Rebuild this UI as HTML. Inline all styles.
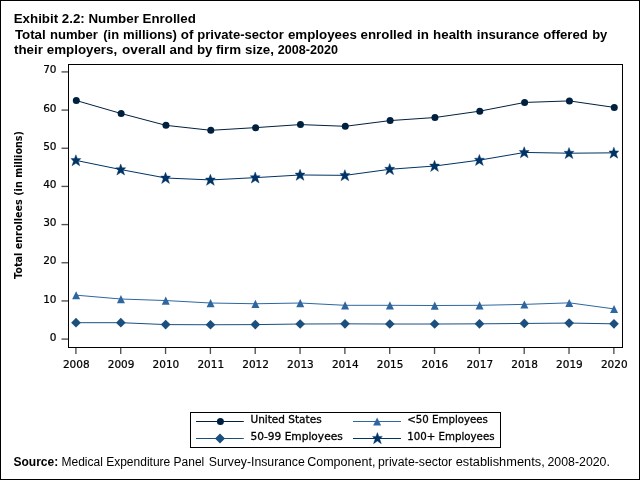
<!DOCTYPE html>
<html lang="en"><head><meta charset="utf-8"><title>Exhibit 2.2: Number Enrolled</title>
<style>
html,body{margin:0;padding:0;background:#fff;}
body{width:640px;height:480px;overflow:hidden;}
svg{display:block;will-change:transform;}
.t{font-family:"Liberation Sans",Arial,sans-serif;font-weight:bold;font-size:13.33px;fill:#000;}
.s{font-family:"Liberation Sans",Arial,sans-serif;font-size:12px;fill:#000;}
.k{font-family:"DejaVu Sans","Liberation Sans",sans-serif;font-size:10.5px;fill:#000;stroke:#000;stroke-width:0.22px;}
.g{stroke-width:0.3px;}
.yl{font-family:"DejaVu Sans","Liberation Sans",sans-serif;font-weight:bold;font-size:10.5px;fill:#000;}
</style></head><body>
<svg width="640" height="480" viewBox="0 0 640 480">
<rect x="0" y="0" width="640" height="480" fill="#fff"/>
<rect x="0.5" y="0.5" width="639" height="479" fill="none" stroke="#000" stroke-width="1" shape-rendering="crispEdges"/>
<text class="t" x="13.7" y="23">Exhibit 2.2: Number Enrolled</text>
<text class="t" y="38.5"><tspan x="14.9">Total</tspan> <tspan x="50" textLength="47.9" lengthAdjust="spacingAndGlyphs">number</tspan> <tspan x="103.3" textLength="15.8" lengthAdjust="spacingAndGlyphs">(in</tspan> <tspan x="123" textLength="53.9" lengthAdjust="spacingAndGlyphs">millions)</tspan> <tspan x="180.8">of</tspan> <tspan x="197.3" textLength="86.45" lengthAdjust="spacingAndGlyphs">private-sector</tspan> <tspan x="287.9">employees</tspan> <tspan x="360.5">enrolled</tspan> <tspan x="417.1">in</tspan> <tspan x="433.1">health</tspan> <tspan x="476.8" textLength="62.3" lengthAdjust="spacingAndGlyphs">insurance</tspan> <tspan x="543.2" textLength="44.7" lengthAdjust="spacingAndGlyphs">offered</tspan> <tspan x="592.2" textLength="15.1" lengthAdjust="spacingAndGlyphs">by</tspan></text>
<text class="t" y="54"><tspan x="14">their</tspan> <tspan x="46.8">employers,</tspan> <tspan x="122" textLength="43.9" lengthAdjust="spacingAndGlyphs">overall</tspan> <tspan x="169.5">and</tspan> <tspan x="196.9">by</tspan> <tspan x="215.9">firm</tspan> <tspan x="245.1">size,</tspan> <tspan x="277.7" textLength="60.2" lengthAdjust="spacingAndGlyphs">2008-2020</tspan></text>
<rect x="68.5" y="64.5" width="554" height="283" fill="none" stroke="#000" stroke-width="1" shape-rendering="crispEdges"/>
<line x1="61.5" y1="339.1" x2="68" y2="339.1" stroke="#505050" stroke-width="1.35"/>
<text class="k" x="56.5" y="340.8" text-anchor="end">0</text>
<line x1="61.5" y1="300.93" x2="68" y2="300.93" stroke="#505050" stroke-width="1.35"/>
<text class="k" x="56.5" y="302.7" text-anchor="end">10</text>
<line x1="61.5" y1="262.76" x2="68" y2="262.76" stroke="#505050" stroke-width="1.35"/>
<text class="k" x="56.5" y="264" text-anchor="end">20</text>
<line x1="61.5" y1="224.59" x2="68" y2="224.59" stroke="#505050" stroke-width="1.35"/>
<text class="k" x="56.5" y="226" text-anchor="end">30</text>
<line x1="61.5" y1="186.42" x2="68" y2="186.42" stroke="#505050" stroke-width="1.35"/>
<text class="k" x="56.5" y="188" text-anchor="end">40</text>
<line x1="61.5" y1="148.25" x2="68" y2="148.25" stroke="#505050" stroke-width="1.35"/>
<text class="k" x="56.5" y="150" text-anchor="end">50</text>
<line x1="61.5" y1="110.08" x2="68" y2="110.08" stroke="#505050" stroke-width="1.35"/>
<text class="k" x="56.5" y="112" text-anchor="end">60</text>
<line x1="61.5" y1="71.91" x2="68" y2="71.91" stroke="#505050" stroke-width="1.35"/>
<text class="k" x="56.5" y="73" text-anchor="end">70</text>
<line x1="75.9" y1="348" x2="75.9" y2="354" stroke="#505050" stroke-width="1.35"/>
<text class="k" x="76.3" y="368" text-anchor="middle">2008</text>
<line x1="120.73" y1="348" x2="120.73" y2="354" stroke="#505050" stroke-width="1.35"/>
<text class="k" x="121.13" y="368" text-anchor="middle">2009</text>
<line x1="165.56" y1="348" x2="165.56" y2="354" stroke="#505050" stroke-width="1.35"/>
<text class="k" x="165.96" y="368" text-anchor="middle">2010</text>
<line x1="210.39" y1="348" x2="210.39" y2="354" stroke="#505050" stroke-width="1.35"/>
<text class="k" x="210.79" y="368" text-anchor="middle">2011</text>
<line x1="255.22" y1="348" x2="255.22" y2="354" stroke="#505050" stroke-width="1.35"/>
<text class="k" x="255.62" y="368" text-anchor="middle">2012</text>
<line x1="300.05" y1="348" x2="300.05" y2="354" stroke="#505050" stroke-width="1.35"/>
<text class="k" x="300.45" y="368" text-anchor="middle">2013</text>
<line x1="344.88" y1="348" x2="344.88" y2="354" stroke="#505050" stroke-width="1.35"/>
<text class="k" x="345.28" y="368" text-anchor="middle">2014</text>
<line x1="389.71" y1="348" x2="389.71" y2="354" stroke="#505050" stroke-width="1.35"/>
<text class="k" x="390.11" y="368" text-anchor="middle">2015</text>
<line x1="434.54" y1="348" x2="434.54" y2="354" stroke="#505050" stroke-width="1.35"/>
<text class="k" x="434.94" y="368" text-anchor="middle">2016</text>
<line x1="479.37" y1="348" x2="479.37" y2="354" stroke="#505050" stroke-width="1.35"/>
<text class="k" x="479.77" y="368" text-anchor="middle">2017</text>
<line x1="524.2" y1="348" x2="524.2" y2="354" stroke="#505050" stroke-width="1.35"/>
<text class="k" x="524.6" y="368" text-anchor="middle">2018</text>
<line x1="569.03" y1="348" x2="569.03" y2="354" stroke="#505050" stroke-width="1.35"/>
<text class="k" x="569.43" y="368" text-anchor="middle">2019</text>
<line x1="613.86" y1="348" x2="613.86" y2="354" stroke="#505050" stroke-width="1.35"/>
<text class="k" x="614.26" y="368" text-anchor="middle">2020</text>
<text class="yl" transform="translate(22,205) rotate(-90)" text-anchor="middle" textLength="148" lengthAdjust="spacingAndGlyphs">Total enrollees (in millions)</text>
<polyline points="76.3,100.54 121.13,113.52 165.96,125.35 210.79,130.31 255.62,127.64 300.45,124.58 345.28,126.3 390.11,120.58 434.94,117.52 479.77,111.15 524.6,102.45 569.43,100.92 614.26,107.41" fill="none" stroke="#00203f" stroke-width="1.0"/>
<polyline points="76.3,160.46 121.13,169.63 165.96,178.02 210.79,179.93 255.62,177.64 300.45,174.97 345.28,175.35 390.11,169.24 434.94,166 479.77,160.08 524.6,152.45 569.43,153.21 614.26,152.83" fill="none" stroke="#003366" stroke-width="1.0"/>
<polyline points="76.3,295.2 121.13,299.02 165.96,300.55 210.79,303.03 255.62,303.75 300.45,303.03 345.28,305.32 390.11,305.32 434.94,305.51 479.77,305.32 524.6,304.37 569.43,302.84 614.26,308.95" fill="none" stroke="#2e679f" stroke-width="1.0"/>
<polyline points="76.3,322.69 121.13,322.69 165.96,324.6 210.79,324.75 255.62,324.6 300.45,324.02 345.28,323.83 390.11,324.02 434.94,324.02 479.77,323.83 524.6,323.45 569.43,323.07 614.26,323.83" fill="none" stroke="#1b4f7d" stroke-width="1.0"/>
<circle cx="76.3" cy="100.54" r="3.5" fill="#00203f"/>
<polygon points="75.9,154.76 77.35,158.56 80.8,158.56 78.3,161.36 79.8,165.86 75.9,163.26 72,165.86 73.5,161.36 71,158.56 74.45,158.56" fill="#003366" stroke="#003366" stroke-width="0.4" stroke-linejoin="miter"/>
<polygon points="76.1,291.25 80.1,299.35 72.1,299.35" fill="#2e679f"/>
<polygon points="76,317.84 80.85,322.69 76,327.54 71.15,322.69" fill="#1b4f7d"/>
<circle cx="121.13" cy="113.52" r="3.5" fill="#00203f"/>
<polygon points="120.73,163.93 122.18,167.73 125.63,167.73 123.13,170.53 124.63,175.03 120.73,172.43 116.83,175.03 118.33,170.53 115.83,167.73 119.28,167.73" fill="#003366" stroke="#003366" stroke-width="0.4" stroke-linejoin="miter"/>
<polygon points="120.93,295.07 124.93,303.17 116.93,303.17" fill="#2e679f"/>
<polygon points="120.83,317.84 125.68,322.69 120.83,327.54 115.98,322.69" fill="#1b4f7d"/>
<circle cx="165.96" cy="125.35" r="3.5" fill="#00203f"/>
<polygon points="165.56,172.32 167.01,176.12 170.46,176.12 167.96,178.92 169.46,183.42 165.56,180.82 161.66,183.42 163.16,178.92 160.66,176.12 164.11,176.12" fill="#003366" stroke="#003366" stroke-width="0.4" stroke-linejoin="miter"/>
<polygon points="165.76,296.6 169.76,304.7 161.76,304.7" fill="#2e679f"/>
<polygon points="165.66,319.75 170.51,324.6 165.66,329.45 160.81,324.6" fill="#1b4f7d"/>
<circle cx="210.79" cy="130.31" r="3.5" fill="#00203f"/>
<polygon points="210.39,174.23 211.84,178.03 215.29,178.03 212.79,180.83 214.29,185.33 210.39,182.73 206.49,185.33 207.99,180.83 205.49,178.03 208.94,178.03" fill="#003366" stroke="#003366" stroke-width="0.4" stroke-linejoin="miter"/>
<polygon points="210.59,299.08 214.59,307.18 206.59,307.18" fill="#2e679f"/>
<polygon points="210.49,319.9 215.34,324.75 210.49,329.6 205.64,324.75" fill="#1b4f7d"/>
<circle cx="255.62" cy="127.64" r="3.5" fill="#00203f"/>
<polygon points="255.22,171.94 256.67,175.74 260.12,175.74 257.62,178.54 259.12,183.04 255.22,180.44 251.32,183.04 252.82,178.54 250.32,175.74 253.77,175.74" fill="#003366" stroke="#003366" stroke-width="0.4" stroke-linejoin="miter"/>
<polygon points="255.42,299.8 259.42,307.9 251.42,307.9" fill="#2e679f"/>
<polygon points="255.32,319.75 260.17,324.6 255.32,329.45 250.47,324.6" fill="#1b4f7d"/>
<circle cx="300.45" cy="124.58" r="3.5" fill="#00203f"/>
<polygon points="300.05,169.27 301.5,173.07 304.95,173.07 302.45,175.87 303.95,180.37 300.05,177.77 296.15,180.37 297.65,175.87 295.15,173.07 298.6,173.07" fill="#003366" stroke="#003366" stroke-width="0.4" stroke-linejoin="miter"/>
<polygon points="300.25,299.08 304.25,307.18 296.25,307.18" fill="#2e679f"/>
<polygon points="300.15,319.17 305,324.02 300.15,328.87 295.3,324.02" fill="#1b4f7d"/>
<circle cx="345.28" cy="126.3" r="3.5" fill="#00203f"/>
<polygon points="344.88,169.65 346.33,173.45 349.78,173.45 347.28,176.25 348.78,180.75 344.88,178.15 340.98,180.75 342.48,176.25 339.98,173.45 343.43,173.45" fill="#003366" stroke="#003366" stroke-width="0.4" stroke-linejoin="miter"/>
<polygon points="345.08,301.37 349.08,309.47 341.08,309.47" fill="#2e679f"/>
<polygon points="344.98,318.98 349.83,323.83 344.98,328.68 340.13,323.83" fill="#1b4f7d"/>
<circle cx="390.11" cy="120.58" r="3.5" fill="#00203f"/>
<polygon points="389.71,163.54 391.16,167.34 394.61,167.34 392.11,170.14 393.61,174.64 389.71,172.04 385.81,174.64 387.31,170.14 384.81,167.34 388.26,167.34" fill="#003366" stroke="#003366" stroke-width="0.4" stroke-linejoin="miter"/>
<polygon points="389.91,301.37 393.91,309.47 385.91,309.47" fill="#2e679f"/>
<polygon points="389.81,319.17 394.66,324.02 389.81,328.87 384.96,324.02" fill="#1b4f7d"/>
<circle cx="434.94" cy="117.52" r="3.5" fill="#00203f"/>
<polygon points="434.54,160.3 435.99,164.1 439.44,164.1 436.94,166.9 438.44,171.4 434.54,168.8 430.64,171.4 432.14,166.9 429.64,164.1 433.09,164.1" fill="#003366" stroke="#003366" stroke-width="0.4" stroke-linejoin="miter"/>
<polygon points="434.74,301.56 438.74,309.66 430.74,309.66" fill="#2e679f"/>
<polygon points="434.64,319.17 439.49,324.02 434.64,328.87 429.79,324.02" fill="#1b4f7d"/>
<circle cx="479.77" cy="111.15" r="3.5" fill="#00203f"/>
<polygon points="479.37,154.38 480.82,158.18 484.27,158.18 481.77,160.98 483.27,165.48 479.37,162.88 475.47,165.48 476.97,160.98 474.47,158.18 477.92,158.18" fill="#003366" stroke="#003366" stroke-width="0.4" stroke-linejoin="miter"/>
<polygon points="479.57,301.37 483.57,309.47 475.57,309.47" fill="#2e679f"/>
<polygon points="479.47,318.98 484.32,323.83 479.47,328.68 474.62,323.83" fill="#1b4f7d"/>
<circle cx="524.6" cy="102.45" r="3.5" fill="#00203f"/>
<polygon points="524.2,146.75 525.65,150.55 529.1,150.55 526.6,153.35 528.1,157.85 524.2,155.25 520.3,157.85 521.8,153.35 519.3,150.55 522.75,150.55" fill="#003366" stroke="#003366" stroke-width="0.4" stroke-linejoin="miter"/>
<polygon points="524.4,300.42 528.4,308.52 520.4,308.52" fill="#2e679f"/>
<polygon points="524.3,318.6 529.15,323.45 524.3,328.3 519.45,323.45" fill="#1b4f7d"/>
<circle cx="569.43" cy="100.92" r="3.5" fill="#00203f"/>
<polygon points="569.03,147.51 570.48,151.31 573.93,151.31 571.43,154.11 572.93,158.61 569.03,156.01 565.13,158.61 566.63,154.11 564.13,151.31 567.58,151.31" fill="#003366" stroke="#003366" stroke-width="0.4" stroke-linejoin="miter"/>
<polygon points="569.23,298.89 573.23,306.99 565.23,306.99" fill="#2e679f"/>
<polygon points="569.13,318.22 573.98,323.07 569.13,327.92 564.28,323.07" fill="#1b4f7d"/>
<circle cx="614.26" cy="107.41" r="3.5" fill="#00203f"/>
<polygon points="613.86,147.13 615.31,150.93 618.76,150.93 616.26,153.73 617.76,158.23 613.86,155.63 609.96,158.23 611.46,153.73 608.96,150.93 612.41,150.93" fill="#003366" stroke="#003366" stroke-width="0.4" stroke-linejoin="miter"/>
<polygon points="614.06,305 618.06,313.1 610.06,313.1" fill="#2e679f"/>
<polygon points="613.96,318.98 618.81,323.83 613.96,328.68 609.11,323.83" fill="#1b4f7d"/>
<rect x="190.5" y="412.5" width="310" height="35" fill="#fff" stroke="#000" stroke-width="1" shape-rendering="crispEdges"/>
<line x1="196" y1="421.5" x2="243.75" y2="421.5" stroke="#00203f" stroke-width="1"/>
<circle cx="220.4" cy="421.5" r="3.5" fill="#00203f"/>
<line x1="196" y1="438.5" x2="243.75" y2="438.5" stroke="#1b4f7d" stroke-width="1"/>
<polygon points="220,433.5 225,438.5 220,443.5 215,438.5" fill="#1b4f7d"/>
<line x1="353" y1="421.5" x2="401" y2="421.5" stroke="#2e679f" stroke-width="1"/>
<polygon points="377.1,417.45 381.1,425.55 373.1,425.55" fill="#2e679f"/>
<line x1="353" y1="438.5" x2="401" y2="438.5" stroke="#003366" stroke-width="1"/>
<polygon points="377.4,432.6 378.85,436.4 382.3,436.4 379.8,439.2 381.3,443.7 377.4,441.1 373.5,443.7 375,439.2 372.5,436.4 375.95,436.4" fill="#003366" stroke="#003366" stroke-width="0.4" stroke-linejoin="miter"/>
<text class="k g" x="250.5" y="423">United States</text>
<text class="k g" x="250.5" y="440" textLength="92.2" lengthAdjust="spacingAndGlyphs">50-99 Employees</text>
<text class="k g" x="407.3" y="423" textLength="80.6" lengthAdjust="spacingAndGlyphs">&lt;50 Employees</text>
<text class="k g" x="407.3" y="440" textLength="87.2" lengthAdjust="spacingAndGlyphs">100+ Employees</text>
<text class="s" y="465.7"><tspan x="13.5" font-weight="bold">Source:</tspan> <tspan x="61.5">Medical</tspan> <tspan x="106.2">Expenditure</tspan> <tspan x="173.6">Panel</tspan> <tspan x="208.8" textLength="96" lengthAdjust="spacingAndGlyphs">Survey-Insurance</tspan> <tspan x="307.2" textLength="68.2" lengthAdjust="spacingAndGlyphs">Component,</tspan> <tspan x="378" textLength="74.2" lengthAdjust="spacingAndGlyphs">private-sector</tspan> <tspan x="455.7" textLength="89" lengthAdjust="spacingAndGlyphs">establishments,</tspan> <tspan x="547.5" textLength="62.4" lengthAdjust="spacingAndGlyphs">2008-2020.</tspan></text>
</svg></body></html>
